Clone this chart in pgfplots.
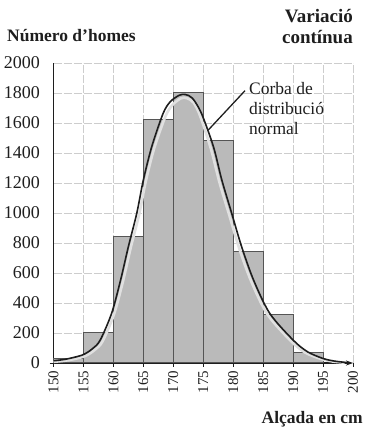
\documentclass[border=0pt]{standalone}
\usepackage{fontspec}
\setmainfont{Liberation Serif}
\usepackage{pgfplots}
\pgfplotsset{compat=1.18}
\usetikzlibrary{arrows.meta}
\definecolor{barfill}{RGB}{186,186,186}
\definecolor{baredge}{RGB}{85,85,85}
\definecolor{gridc}{RGB}{205,205,205}
\definecolor{txt}{RGB}{30,30,30}
\begin{document}
\begin{tikzpicture}[x=1pt,y=1pt]
\path[use as bounding box] (-53.5,-67) rectangle (318.5,363);
\begin{axis}[
  at={(0,0)}, anchor=south west,
  scale only axis, width=299.5pt, height=300pt,
  xmin=150, xmax=200, ymin=0, ymax=2000,
  axis lines*=left,
  x axis line style={line width=1.2pt, draw=txt, -{Stealth[length=7pt,width=5pt]}},
  y axis line style={line width=1.6pt, draw=txt},
  xtick={150,155,...,200}, ytick={0,200,...,2000},
  grid=major,
  major grid style={draw=gridc, line width=0.7pt, dash pattern=on 8pt off 2pt},
  xtick style={draw=txt, line width=0.8pt}, ytick style={draw=none},
  major tick length=4pt, tick align=outside,
  /pgf/number format/assume math mode=true,
  /pgf/number format/1000 sep={},
  x tick label style={rotate=90, anchor=east, font=\fontsize{15}{15}\selectfont, text=txt},
  y tick label style={font=\fontsize{18}{18}\selectfont, text=txt, xshift=-6pt},
  clip=false,
]
\addplot[ybar interval, fill=barfill, draw=baredge, line width=1pt]
  coordinates {(150,30)(155,200)(160,840)(165,1620)(170,1800)(175,1480)(180,740)(185,320)(190,70)(195,70)};
\addplot[smooth, tension=0.5, line width=2.6pt, draw=white!88!black]
  coordinates {(150,8)(152.4,18)(155.2,45)(156.9,88)(158.2,145)(160.1,325)(161.6,545)(162.9,770)(164.3,990)(165.4,1210)(166.8,1430)(168.7,1645)(169.9,1722)(171.3,1765)(172.3,1765)(173.4,1735)(174.5,1645)(176.3,1425)(177.7,1205)(179.35,985)(181.0,765)(183.0,545)(185.7,325)(189.6,148)(192,70)(194.6,28)(196.6,10)(198.6,2)};
\addplot[smooth, tension=0.5, line width=1.6pt, draw=txt]
  coordinates {(150,15)(152,25)(154.8,53)(156.5,95)(157.8,153)(159.7,331)(161.2,553)(162.5,776)(163.9,998)(165.0,1220)(166.4,1442)(168.3,1664)(169.5,1742)(171,1785)(172,1790)(173.2,1765)(174.7,1664)(176.7,1442)(178.1,1220)(179.75,998)(181.4,776)(183.4,553)(186.1,331)(190.0,153)(192.4,75)(195,30)(197,12)(199,3)};
\end{axis}
\draw[txt, line width=1.3pt] (154.8,233) -- (191.5,272.3);
\draw[txt, line width=0.8pt] (-4,0) -- (0,0);
\node[anchor=base west, text=txt, font=\fontsize{17.5}{20}\selectfont, inner sep=0pt] at (195.5,268) {Corba de};
\node[anchor=base west, text=txt, font=\fontsize{17.5}{20}\selectfont, inner sep=0pt] at (195.5,248) {distribució};
\node[anchor=base west, text=txt, font=\fontsize{17.5}{20}\selectfont, inner sep=0pt] at (195.5,228) {normal};
\node[anchor=base west, text=txt, font=\bfseries\fontsize{17.5}{18}\selectfont, inner sep=0pt] at (-46.5,321) {Número d’homes};
\node[anchor=base east, text=txt, font=\bfseries\fontsize{19}{20}\selectfont, inner sep=0pt] at (299.5,340) {Variació};
\node[anchor=base east, text=txt, font=\bfseries\fontsize{19}{20}\selectfont, inner sep=0pt] at (299.5,319) {contínua};
\node[anchor=base east, text=txt, font=\bfseries\fontsize{17.5}{20}\selectfont, inner sep=0pt] at (309.5,-60) {Alçada en cm};
\end{tikzpicture}
\end{document}
